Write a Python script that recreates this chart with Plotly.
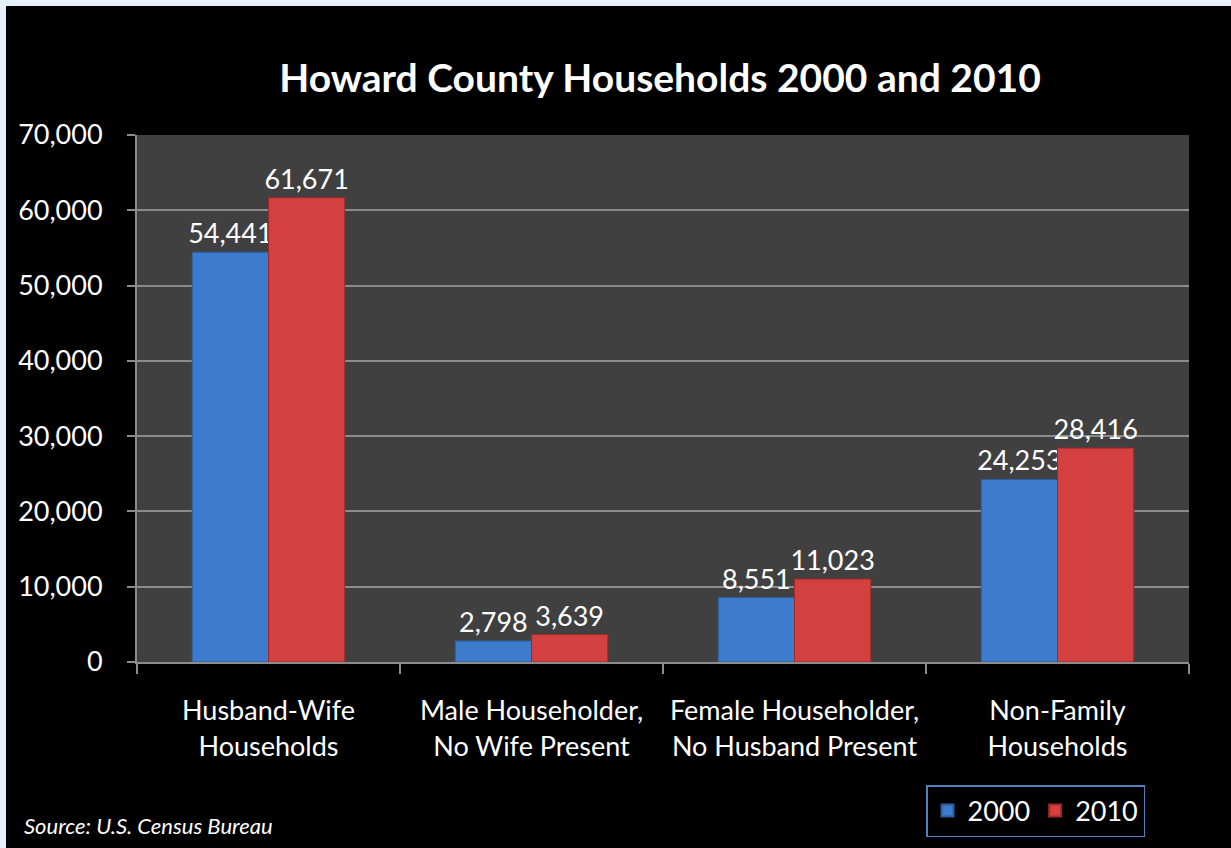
import plotly.graph_objects as go

# Household types and counts (U.S. Census, Howard County)
categories = ["Husband-Wife<br>Households", "Male Householder,<br>No Wife Present",
              "Female Householder,<br>No Husband Present", "Non-Family<br>Households"]
households_2000 = [54441, 2798, 8551, 24253]
households_2010 = [61671, 3639, 11023, 28416]
y_ticks = [0, 10000, 20000, 30000, 40000, 50000, 60000, 70000]

W, H = 1231, 848
L, R, T, B = 137, 42, 135, 186
pw, ph = W - L - R, H - T - B

def px_x(x):
    return (x - L) / pw

def px_y(y):
    return (H - B - y) / ph

FONT = "Lato"
FS = 27

fig = go.Figure()
fig.add_trace(go.Bar(x=categories, y=households_2000, name="2000",
                     marker=dict(color="#3d7ccc", line=dict(color="#2c5d9c", width=1)),
                     texttemplate="%{y:,}", textposition="outside", constraintext="none",
                     cliponaxis=False, textfont=dict(color="white", size=FS, family=FONT)))
fig.add_trace(go.Bar(x=categories, y=households_2010, name="2010",
                     marker=dict(color="#d4403f", line=dict(color="#9c2a2a", width=1)),
                     texttemplate="%{y:,}", textposition="outside", constraintext="none",
                     cliponaxis=False, textfont=dict(color="white", size=FS, family=FONT)))

fig.update_layout(
    width=W, height=H,
    margin=dict(l=L, r=R, t=T, b=B, autoexpand=False),
    paper_bgcolor="black",
    plot_bgcolor="#404040",
    font=dict(family=FONT, color="white", size=FS),
    title=dict(text="<b>Howard County Households 2000 and 2010</b>",
               x=660 / W, xanchor="center", y=1 - 78 / H, yanchor="middle",
               font=dict(size=39, color="white", family=FONT)),
    barmode="group", bargap=0.42, bargroupgap=0,
    showlegend=True,
    legend=dict(orientation="h", x=px_x(926), xanchor="left", y=px_y(785), yanchor="top",
                bordercolor="#4f81bd", borderwidth=1.5, bgcolor="black",
                font=dict(size=FS, color="white", family=FONT),
                itemsizing="constant", traceorder="normal"),
)

fig.update_yaxes(range=[0, 70000], tickvals=y_ticks, tickformat=",",
                 showgrid=True, gridcolor="#8c8c8c", gridwidth=1.5,
                 showline=True, linecolor="#8c8c8c", linewidth=2,
                 ticks="outside", ticklen=8, tickcolor="#8c8c8c", tickwidth=2,
                 ticklabelstandoff=19, zeroline=False,
                 tickfont=dict(size=FS, color="white", family=FONT))
fig.update_xaxes(showline=True, linecolor="#8c8c8c", linewidth=2,
                 ticks="outside", tickson="boundaries", ticklen=10,
                 tickcolor="#8c8c8c", tickwidth=2, ticklabelstandoff=24,
                 tickangle=0,
                 tickfont=dict(size=FS, color="white", family=FONT))

# light edge strips on top and left
fig.add_shape(type="rect", xref="paper", yref="paper", layer="below",
              x0=px_x(0), x1=px_x(W), y0=px_y(0), y1=px_y(6),
              fillcolor="#e6effc", line_width=0)
fig.add_shape(type="rect", xref="paper", yref="paper", layer="below",
              x0=px_x(0), x1=px_x(6), y0=px_y(0), y1=px_y(H),
              fillcolor="#e6effc", line_width=0)

fig.add_annotation(text="<i>Source: U.S. Census Bureau</i>", xref="paper", yref="paper",
                   x=px_x(22), xanchor="left", y=px_y(825), yanchor="middle",
                   showarrow=False, font=dict(size=22, color="white", family=FONT))

# drop the default page margin so the figure sits at the window corner
fig.write_html("out.html", config={"displayModeBar": False},
               post_script="document.body.style.margin='0';document.body.style.overflow='hidden';")
